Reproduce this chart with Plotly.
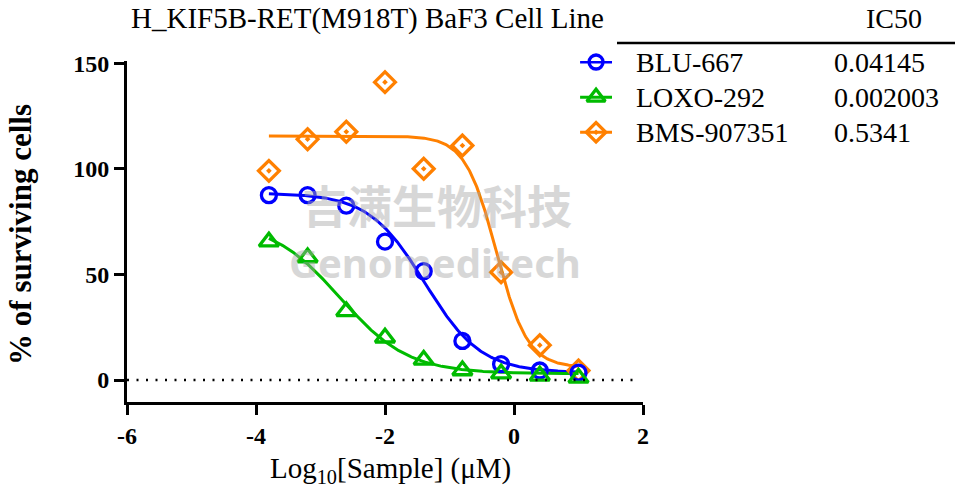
import numpy as np
import plotly.graph_objects as go

# ---- data ----
log_conc = [-3.8, -3.2, -2.6, -2.0, -1.4, -0.8, -0.2, 0.4, 1.0]
names = ["BLU-667", "LOXO-292", "BMS-907351"]
blu667 = [87.5, 87.5, 82.5, 65.5, 51.5, 18.5, 7.5, 4.5, 3.5]
loxo292 = [65.5, 58.0, 32.5, 20.0, 9.5, 4.5, 3.0, 2.0, 1.0]
bms907351 = [99.0, 114.0, 117.5, 141.0, 100.0, 111.0, 51.0, 16.5, 4.5]
ic50_values = [0.04145, 0.002003, 0.5341]
ic50_labels = ["0.04145", "0.002003", "0.5341"]
# four-parameter logistic fit parameters (top, bottom, hill slope) per compound
fit_top = [88.5, 75.0, 115.5]
fit_bottom = [3.5, 3.0, 6.0]
fit_hill = [1.0, 0.82, 1.8]
x_ticks = [-6, -4, -2, 0, 2]
y_ticks = [0, 50, 100, 150]

colors = ["#0000FF", "#00BB00", "#FF8000"]
symbols = ["circle-open", "triangle-up-open", "diamond-open-dot"]
sizes = [15, 17, 16]
series = [blu667, loxo292, bms907351]

font_family = "Liberation Serif, Times New Roman, serif"

fig = go.Figure()

xf = np.linspace(min(log_conc), max(log_conc), 300)
for i in range(3):
    c = np.log10(ic50_values[i])
    yf = fit_bottom[i] + (fit_top[i] - fit_bottom[i]) / (1 + 10 ** ((xf - c) * fit_hill[i]))
    fig.add_trace(go.Scatter(x=xf, y=yf, mode="lines", line=dict(color=colors[i], width=3),
                             showlegend=False, hoverinfo="skip"))
for i in [2, 0, 1]:
    fig.add_trace(go.Scatter(x=log_conc, y=series[i], mode="markers",
                             marker=dict(symbol=symbols[i], size=sizes[i], color=colors[i],
                                         line=dict(width=3.3, color=colors[i])),
                             showlegend=False))

# legend (symbols on a small helper axis, text as annotations)
legend_rows = [0.997, 0.894, 0.791]
for i in range(3):
    fig.add_trace(go.Scatter(x=[0, 0.5, 1], y=[legend_rows[i]] * 3, mode="lines",
                             line=dict(color=colors[i], width=3), xaxis="x2", yaxis="y2",
                             showlegend=False, hoverinfo="skip", cliponaxis=False))
    fig.add_trace(go.Scatter(x=[0.5], y=[legend_rows[i]], mode="markers",
                             marker=dict(symbol=symbols[i], size=sizes[i] - 1, color=colors[i],
                                         line=dict(width=3.3, color=colors[i])),
                             xaxis="x2", yaxis="y2", showlegend=False, hoverinfo="skip",
                             cliponaxis=False))
    fig.add_annotation(text=names[i], xref="paper", yref="paper", x=0.9826, y=legend_rows[i],
                       xanchor="left", yanchor="middle", showarrow=False,
                       font=dict(size=28, family=font_family, color="black"))
    fig.add_annotation(text=ic50_labels[i], xref="paper", yref="paper", x=1.366, y=legend_rows[i],
                       xanchor="left", yanchor="middle", showarrow=False,
                       font=dict(size=28, family=font_family, color="black"))

fig.update_layout(
    width=955, height=491,
    margin=dict(l=127, r=312, t=61, b=89),
    paper_bgcolor="white", plot_bgcolor="white",
    font=dict(family=font_family, color="black"),
    showlegend=False,
    xaxis=dict(range=[-6, 2], tickvals=x_ticks, ticktext=[str(v) for v in x_ticks],
               showgrid=False, zeroline=False, showline=True, linecolor="black", linewidth=3,
               ticks="outside", ticklen=10, tickwidth=3, tickcolor="black",
               tickfont=dict(size=24, family=font_family, color="black", weight="bold")),
    yaxis=dict(range=[-10.4, 151], tickvals=y_ticks, ticktext=[str(v) for v in y_ticks],
               showgrid=False, zeroline=False, showline=True, linecolor="black", linewidth=3,
               ticks="outside", ticklen=10, tickwidth=3, tickcolor="black",
               tickfont=dict(size=24, family=font_family, color="black", weight="bold")),
    xaxis2=dict(domain=[0.878, 0.940], range=[0, 1], visible=False, anchor="y2"),
    yaxis2=dict(domain=[0.75, 1.0], range=[0.75, 1.0], visible=False, anchor="x2"),
)

# axis titles
fig.add_annotation(text="% of surviving cells", xref="paper", yref="paper", x=-0.2054, y=0.49,
                   xanchor="center", yanchor="middle", textangle=-90, showarrow=False,
                   font=dict(size=31, family=font_family, color="black", weight="bold"))
fig.add_annotation(text="Log<sub>10</sub>[Sample] (μM)", xref="paper", yref="paper", x=0.51, y=-0.2,
                   xanchor="center", yanchor="middle", showarrow=False,
                   font=dict(size=29, family=font_family, color="black"))

# dotted zero line
fig.add_shape(type="line", xref="x", yref="y", x0=-6, x1=1.85, y0=0, y1=0,
              line=dict(color="black", width=2.5, dash="2px,7.5px"))

# title
fig.add_annotation(text="H_KIF5B-RET(M918T) BaF3 Cell Line", xref="paper", yref="paper",
                   x=0.004, y=1.125, xanchor="left", yanchor="middle", showarrow=False,
                   font=dict(size=29, family=font_family, color="black"))
# IC50 table header
fig.add_annotation(text="IC50", xref="paper", yref="paper", x=1.486, y=1.125,
                   xanchor="center", yanchor="middle", showarrow=False,
                   font=dict(size=28, family=font_family, color="black"))
fig.add_shape(type="line", xref="paper", yref="paper", x0=0.9496, x1=1.61, y0=1.053, y1=1.053,
              line=dict(color="black", width=2.5))

# watermark
fig.add_annotation(text="吉满生物科技", xref="paper", yref="paper", x=0.60, y=0.578,
                   xanchor="center", yanchor="middle", showarrow=False, opacity=0.45,
                   font=dict(size=45, family="Noto Sans CJK SC", color="#a8a8a8", weight="bold"))
fig.add_annotation(text="Genomeditech", xref="paper", yref="paper", x=0.597, y=0.41,
                   xanchor="center", yanchor="middle", showarrow=False, opacity=0.45,
                   font=dict(size=40, family="Noto Sans, DejaVu Sans", color="#a8a8a8", weight="bold"))

fig.write_html("out.html", config={"displayModeBar": False},
               post_script="document.body.style.margin='0px';document.body.style.overflow='hidden';")
